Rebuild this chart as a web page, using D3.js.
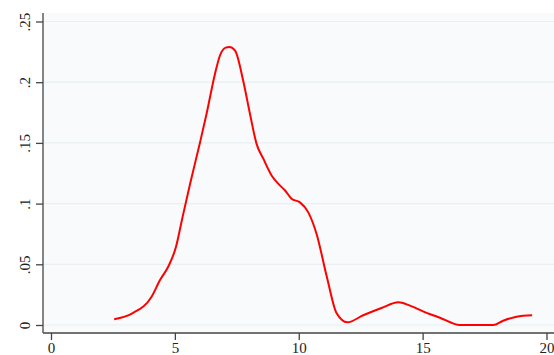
<!DOCTYPE html>
<html><head><meta charset="utf-8">
<script src="https://cdn.jsdelivr.net/npm/d3@7"></script>
<style>body{margin:0;background:#fff}svg{display:block}</style>
</head><body>
<script>
const xTicks = [0, 5, 10, 15, 20];
const yTicks = [0, 0.05, 0.1, 0.15, 0.2, 0.25];
const yTickLabels = ["0", ".05", ".1", ".15", ".2", ".25"];
const densX = [2.55, 3.28, 4.06, 4.40, 4.73, 5.04, 5.30, 5.61, 6.01, 6.28, 6.62, 6.82, 7.05, 7.20, 7.43, 7.76, 8.03, 8.30, 8.57, 8.91, 9.24, 9.44, 9.71, 10.05, 10.38, 10.72, 11.13, 11.53, 11.96, 12.6, 13.34, 14.02, 14.49, 15.16, 15.7, 16.5, 17.85, 18.25, 18.79, 19.42];
const densY = [0.0047, 0.0096, 0.0233, 0.037, 0.048, 0.064, 0.088, 0.116, 0.150, 0.174, 0.207, 0.222, 0.2285, 0.229, 0.226, 0.201, 0.174, 0.149, 0.137, 0.123, 0.115, 0.111, 0.104, 0.101, 0.093, 0.075, 0.040, 0.0096, 0.0022, 0.008, 0.014, 0.0187, 0.016, 0.010, 0.006, 0, 0, 0.0035, 0.0068, 0.008];

const W = 554, H = 355;
const svg = d3.select("body").append("svg").attr("width", W).attr("height", H);
const plot = {l: 43, r: 554, t: 13, b: 333};
const x = d3.scaleLinear().domain([0, 20]).range([51, 546.5]);
const y = d3.scaleLinear().domain([0, 0.25]).range([325, 21.5]);

svg.append("rect").attr("x", plot.l).attr("y", plot.t).attr("width", plot.r - plot.l).attr("height", plot.b - plot.t).attr("fill", "#f8fafb");

svg.append("g").selectAll("line").data(yTicks).join("line")
  .attr("x1", plot.l).attr("x2", plot.r).attr("y1", d => y(d)).attr("y2", d => y(d))
  .attr("stroke", "#e8f0f4").attr("stroke-width", 1.2);

const font = "'Liberation Serif', 'Times New Roman', serif";
const yAxis = svg.append("g").attr("transform", `translate(${plot.l},0)`)
  .call(d3.axisLeft(y).tickValues(yTicks).tickSize(7).tickPadding(7).tickFormat((d, i) => yTickLabels[i]));
yAxis.select(".domain").attr("d", `M0,${plot.t}V${plot.b}`).attr("stroke", "#444").attr("stroke-width", 1.3);
yAxis.selectAll(".tick line").attr("stroke", "#444").attr("stroke-width", 1.3);
yAxis.selectAll(".tick text").attr("font-family", font).attr("font-size", 15).attr("fill", "#222")
  .attr("transform", "rotate(-90)").attr("x", 0).attr("y", -13).attr("dy", 0).attr("text-anchor", "middle")
  .attr("dominant-baseline", "auto");

const xAxis = svg.append("g").attr("transform", `translate(0,${plot.b})`)
  .call(d3.axisBottom(x).tickValues(xTicks).tickSize(7).tickPadding(2).tickFormat(d3.format("d")));
xAxis.select(".domain").attr("d", `M${plot.l},0H${plot.r}`).attr("stroke", "#444").attr("stroke-width", 1.3);
xAxis.selectAll(".tick line").attr("stroke", "#444").attr("stroke-width", 1.3);
xAxis.selectAll(".tick text").attr("font-family", font).attr("font-size", 15).attr("fill", "#222");

const pts = densX.map((d, i) => [d, densY[i]]);
svg.append("path").datum(pts)
  .attr("fill", "none").attr("stroke", "#ff0000").attr("stroke-width", 2)
  .attr("d", d3.line().x(d => x(d[0])).y(d => y(d[1])).curve(d3.curveMonotoneX));
</script>
</body></html>
